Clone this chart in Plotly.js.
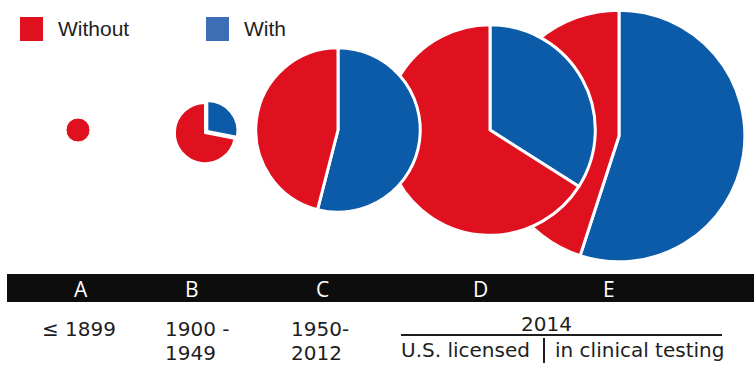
<!DOCTYPE html>
<html><head><meta charset="utf-8">
<script src="https://cdn.plot.ly/plotly-3.0.1.min.js"></script>
<style>html,body{margin:0;padding:0;background:#fff}#chart{width:754px;height:367px}</style>
</head><body><div id="chart"></div>
<script>
// ---- data ----
const groups = ['A', 'B', 'C', 'D', 'E'];
const sliceLabels = ['With', 'Without'];
const withPct = [0, 28, 54, 34, 55];
const withoutPct = [100, 72, 46, 66, 45];
const relativeTotal = [1, 6.3, 47, 77, 110];
const periodLine1 = ['\u2264 1899', '1900 -', '1950-'];
const periodLine2 = ['', '1949', '2012'];
const yearLabel = '2014';
const subLabels = ['U.S. licensed', 'in clinical testing'];
const legendLabels = ['Without', 'With'];

// ---- layout constants ----
const W = 754, H = 367;
const RED = '#e0111e', BLUE = '#0b5ba8', LEGBLUE = '#3d6eb5', TXT = '#1e1e1e';
const centers = [[78, 130], [205, 133], [338, 130], [490, 130], [619, 136]];
const pulls = [0, 0.1, 0, 0, 0];
const lineW = [1, 2, 3, 3, 3];
const letterX = [81, 192, 322, 480, 609];
const periodX = [41, 164, 290];
const unit = 12;
const px = x => x / W;
const py = y => 1 - y / H;
const FONT = 'Open Sans, Liberation Sans, sans-serif';
const LFONT = 'DejaVu Sans, Liberation Sans, sans-serif';

const traces = [];
for (const i of [4, 3, 2, 1, 0]) {
  const r = unit * Math.sqrt(relativeTotal[i]);
  const half = r * (1 + pulls[i]);
  const [cx, cy] = centers[i];
  traces.push({
    type: 'pie',
    name: groups[i],
    labels: sliceLabels,
    values: [withPct[i], withoutPct[i]],
    sort: false,
    direction: 'clockwise',
    rotation: 0,
    pull: [pulls[i], 0],
    textinfo: 'none',
    hoverinfo: 'label+percent+name',
    showlegend: false,
    marker: { colors: [BLUE, RED], line: { color: '#ffffff', width: lineW[i] } },
    domain: { x: [px(cx - half), px(cx + half)], y: [py(cy + half), py(cy - half)] }
  });
}

const shapes = [
  { type: 'rect', xref: 'paper', yref: 'paper', x0: px(7), x1: 1, y0: py(302), y1: py(274),
    fillcolor: '#0d0d0d', line: { width: 0 } },
  { type: 'rect', xref: 'paper', yref: 'paper', x0: px(20), x1: px(43), y0: py(41), y1: py(17),
    fillcolor: RED, line: { width: 0 } },
  { type: 'rect', xref: 'paper', yref: 'paper', x0: px(206), x1: px(229), y0: py(41), y1: py(17),
    fillcolor: LEGBLUE, line: { width: 0 } },
  { type: 'line', xref: 'paper', yref: 'paper', x0: px(401), x1: px(722), y0: py(335), y1: py(335),
    line: { color: TXT, width: 2 } },
  { type: 'line', xref: 'paper', yref: 'paper', x0: px(544), x1: px(544), y0: py(338), y1: py(363),
    line: { color: TXT, width: 2 } }
];

const annotations = [];
const ann = (text, x, y, xanchor, size, color, family) => annotations.push({
  text, x: px(x), y: py(y), xref: 'paper', yref: 'paper', xanchor, yanchor: 'middle',
  showarrow: false, borderpad: 0, font: { size, color, family: family || FONT }
});
groups.forEach((g, i) => ann(g, letterX[i], 289, 'center', 21, '#ffffff'));
periodLine1.forEach((t, i) => ann(t, periodX[i], 329, 'left', 20, TXT, LFONT));
periodLine2.forEach((t, i) => { if (t) ann(t, periodX[i], 353, 'left', 20, TXT, LFONT); });
ann(yearLabel, 546, 324, 'center', 20, TXT, LFONT);
ann(subLabels[0], 400, 350, 'left', 20, TXT, LFONT);
ann(subLabels[1], 554, 350, 'left', 20, TXT, LFONT);
ann(legendLabels[0], 57, 29, 'left', 21, TXT, 'Liberation Sans, Arial, sans-serif');
ann(legendLabels[1], 243, 29, 'left', 21, TXT, 'Liberation Sans, Arial, sans-serif');

Plotly.newPlot('chart', traces, {
  width: W, height: H,
  margin: { l: 0, r: 0, t: 0, b: 0 },
  paper_bgcolor: '#ffffff',
  showlegend: false,
  shapes, annotations
}, { displayModeBar: false });
</script>
</body></html>
